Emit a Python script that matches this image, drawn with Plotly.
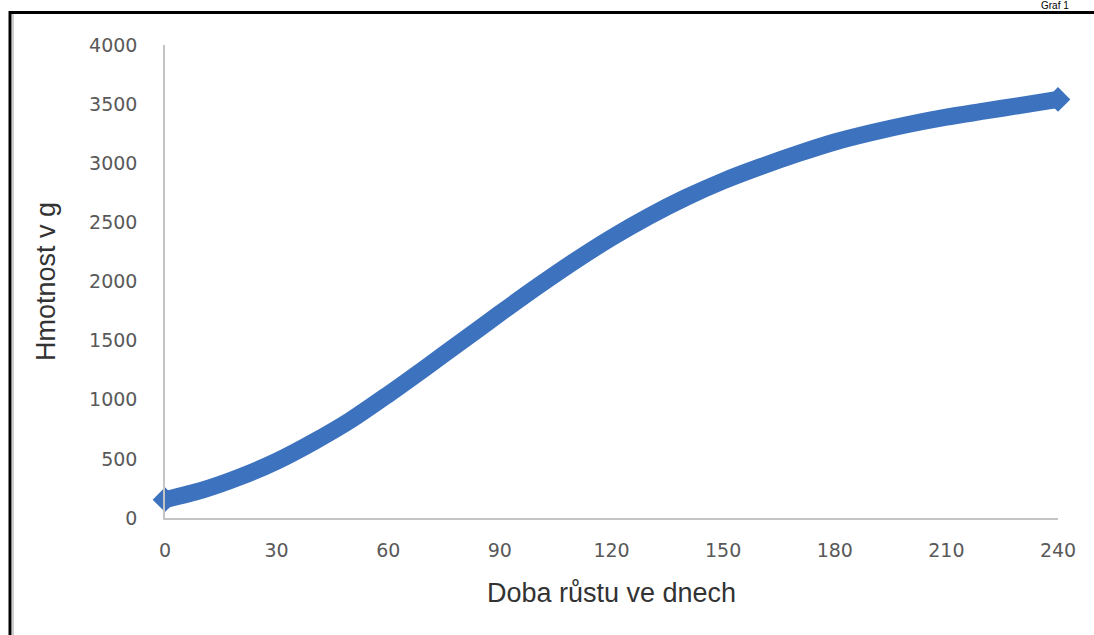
import plotly.graph_objects as go

# Growth curve: weight in grams by day of growth
days = [0, 10, 20, 30, 40, 50, 60, 70, 80, 90, 100, 110, 120,
        130, 140, 150, 160, 170, 180, 190, 200, 210, 220, 230, 240]
weight_g = [155, 235, 345, 480, 645, 830, 1045, 1270, 1500, 1730, 1955, 2170, 2370,
            2550, 2710, 2850, 2970, 3080, 3180, 3260, 3330, 3390, 3440, 3490, 3540]

x_ticks = [0, 30, 60, 90, 120, 150, 180, 210, 240]
y_ticks = [0, 500, 1000, 1500, 2000, 2500, 3000, 3500, 4000]

W, H = 1094, 635
L, R, T, B = 165, 36, 45, 117
pw, ph = W - L - R, H - T - B


def px(x):
    return (x - L) / pw


def py(y):
    return 1 - (y - T) / ph


BLUE = "#3D72BF"
TICK = "#595959"
TITLE = "#333333"
FONT = "Liberation Sans, Arial, sans-serif"
TICKFONT = "DejaVu Sans, Verdana, sans-serif"

# pointed caps only at the two ends of the curve
end_sizes = [19] + [0] * (len(days) - 2) + [19]

fig = go.Figure()
fig.add_trace(go.Scatter(
    x=days, y=weight_g, mode="lines+markers",
    line=dict(color=BLUE, width=17, shape="spline", smoothing=0.8),
    marker=dict(color=BLUE, symbol="diamond", size=end_sizes, opacity=1,
                line=dict(width=0)),
    showlegend=False, cliponaxis=False,
))

fig.update_layout(
    width=W, height=H,
    margin=dict(l=L, r=R, t=T, b=B),
    paper_bgcolor="white", plot_bgcolor="white",
    font=dict(family=FONT),
    xaxis=dict(
        range=[0, 240], tickvals=x_ticks, ticktext=[str(v) for v in x_ticks],
        showgrid=False, zeroline=False, showline=True, linecolor="#c4c4c4", linewidth=1.5,
        ticks="", tickfont=dict(size=19, color=TICK, family=TICKFONT), ticklabelstandoff=14,
        title=dict(text="Doba růstu ve dnech", font=dict(size=27, color=TITLE), standoff=24),
    ),
    yaxis=dict(
        range=[0, 4000], tickvals=y_ticks, ticktext=[str(v) for v in y_ticks],
        showgrid=False, zeroline=False, showline=True, linecolor="#c4c4c4", linewidth=1.5,
        ticks="", tickfont=dict(size=19, color=TICK, family=TICKFONT), ticklabelstandoff=22,
        title=dict(text="Hmotnost v g", font=dict(size=27, color=TITLE), standoff=26),
    ),
    shapes=[
        # outer frame (top and left edges)
        dict(type="line", xref="paper", yref="paper", x0=px(10), x1=px(W + 5),
             y0=py(12.5), y1=py(12.5), line=dict(color="black", width=3)),
        dict(type="line", xref="paper", yref="paper", x0=px(10), x1=px(10),
             y0=py(11), y1=py(H + 5), line=dict(color="black", width=3)),
        # inner light edge
        dict(type="line", xref="paper", yref="paper", x0=px(13), x1=px(13),
             y0=py(14), y1=py(H + 5), line=dict(color="#cfcfcf", width=2)),
    ],
    annotations=[
        dict(text="Graf 1", xref="paper", yref="paper", x=px(1040), y=py(12),
             xanchor="left", yanchor="bottom", showarrow=False, borderpad=0,
             font=dict(size=10, color="black", family=FONT)),
    ],
)

fig.write_html("out.html")
